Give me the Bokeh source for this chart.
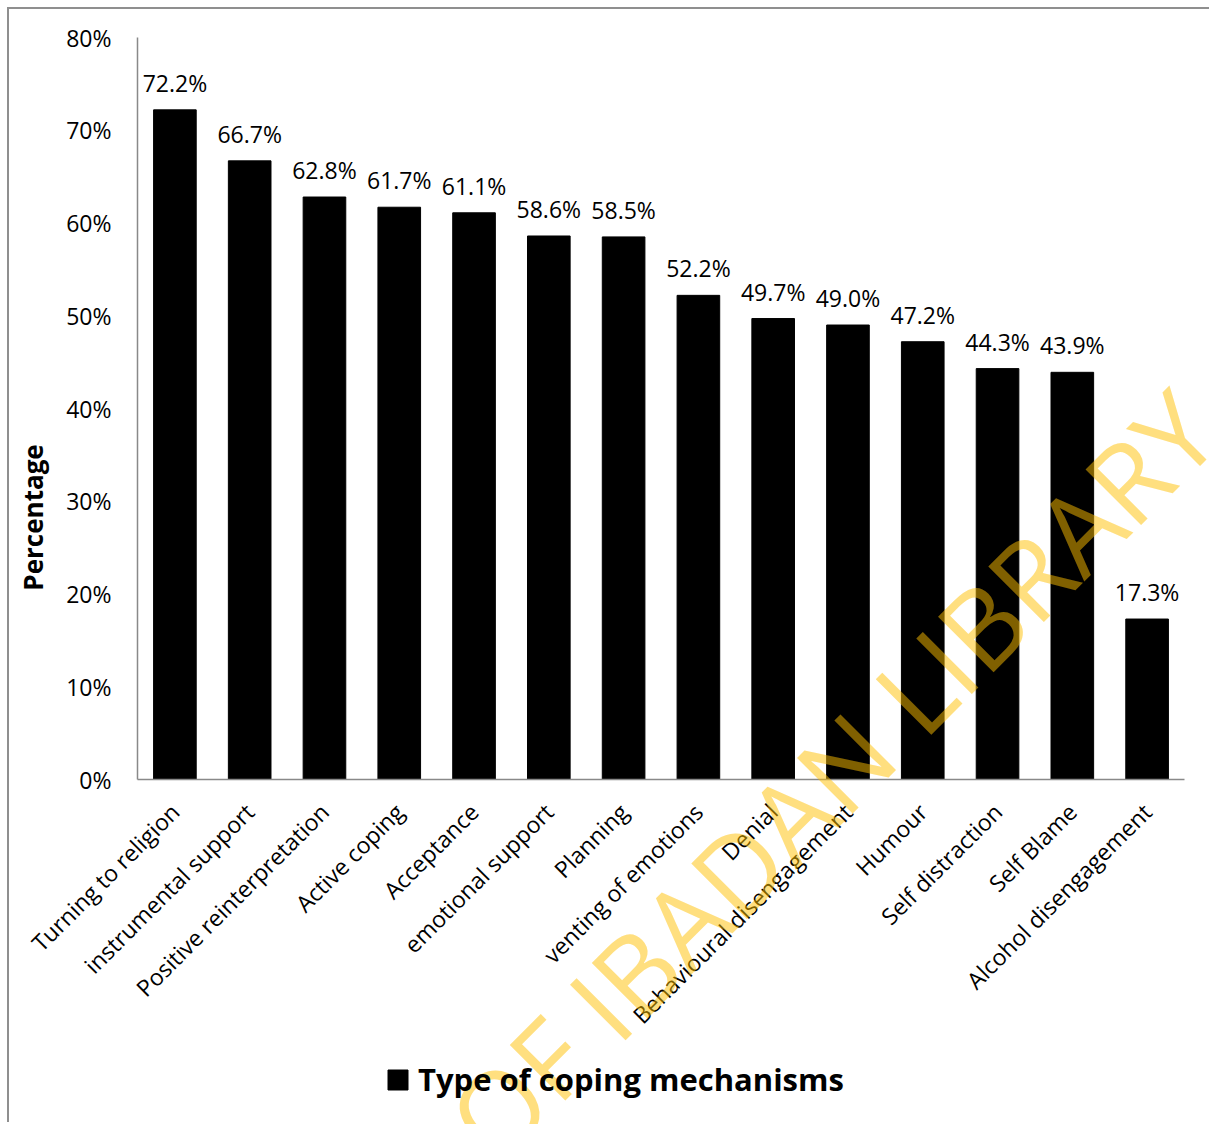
import math
from bokeh.plotting import figure
from bokeh.models import (FactorRange, Range1d, ColumnDataSource, PrintfTickFormatter,
                          FixedTicker, Legend, LegendItem)
from bokeh.core.properties import value
from bokeh.embed import file_html
from bokeh.resources import INLINE

# ---- data ----
categories = ["Turning to religion", "instrumental support", "Positive reinterpretation",
              "Active coping", "Acceptance", "emotional support", "Planning",
              "venting of emotions", "Denial", "Behavioural disengagement", "Humour",
              "Self distraction", "Self Blame", "Alcohol disengagement"]
percentages = [72.2, 66.7, 62.8, 61.7, 61.1, 58.6, 58.5, 52.2, 49.7, 49.0, 47.2, 44.3, 43.9, 17.3]
y_ticks = [0, 10, 20, 30, 40, 50, 60, 70, 80]
series_name = "Type of coping mechanisms"
y_title = "Percentage"
watermark = "UNIVERSITY OF IBADAN LIBRARY"

FONT = "Open Sans"

src = ColumnDataSource(dict(cat=categories, val=percentages,
                            lab=["%.1f%%" % v for v in percentages]))

# ---- main chart ----
p = figure(x_range=FactorRange(factors=categories), y_range=Range1d(0, 80),
           width=1202, height=1115, output_backend="svg", toolbar_location=None,
           min_border_left=128, min_border_right=27, min_border_top=28, min_border_bottom=345)
p.styles = {"border-left": "2px solid #8f8f8f", "border-top": "2px solid #8f8f8f",
            "margin-left": "7px", "margin-top": "7px"}
p.outline_line_color = None
p.xgrid.grid_line_color = None
p.ygrid.grid_line_color = None
p.background_fill_color = "white"
p.border_fill_color = "white"

p.vbar(x="cat", top="val", width=0.57, source=src, fill_color="black", line_color="black")

p.text(x="cat", y="val", text="lab", source=src, text_align="center", text_baseline="bottom",
       y_offset=-11, text_font=value(FONT), text_font_size="23px", text_color="black")

p.yaxis.ticker = FixedTicker(ticks=y_ticks)
p.yaxis.formatter = PrintfTickFormatter(format="%d%%")
for ax in (p.xaxis, p.yaxis):
    ax.axis_line_color = "#898989"
    ax.axis_line_width = 1.5
    ax.major_tick_line_color = None
    ax.minor_tick_line_color = None
    ax.major_label_text_font = FONT
    ax.major_label_text_font_size = "23px"
    ax.major_label_text_color = "black"
p.yaxis.major_label_standoff = 20
p.xaxis.major_label_orientation = math.pi / 4
p.xaxis.major_label_standoff = 22

# ---- overlay: axis title, legend and watermark (transparent, over the whole page) ----
wm = figure(width=1211, height=1124, x_range=Range1d(0, 1211), y_range=Range1d(1124, 0),
            min_border=0, output_backend="svg", toolbar_location=None)
wm.axis.visible = False
wm.xgrid.visible = False
wm.ygrid.visible = False
wm.outline_line_color = None
wm.background_fill_color = None
wm.border_fill_color = None

wm.text(x=[32], y=[517], text=[y_title], angle=math.pi / 2, text_align="center",
        text_baseline="middle", text_font=value(FONT), text_font_size="26px",
        text_font_style="bold", text_color="black")

nan = float("nan")
legend_src = ColumnDataSource(dict(x=[nan], top=[nan]))
key = wm.vbar(x="x", top="top", width=1, source=legend_src, fill_color="black", line_color="black")
legend = Legend(items=[LegendItem(label=series_name, renderers=[key])],
                location=(385, 24), orientation="horizontal",
                border_line_color=None, background_fill_alpha=0, padding=0, margin=0,
                glyph_width=25, glyph_height=25, label_standoff=8,
                label_text_font=FONT, label_text_font_size="31px",
                label_text_font_style="bold", label_text_color="black")
wm.add_layout(legend, "center")

wm.text(x=[1194], y=[410], text=[watermark], angle=math.pi / 4, text_align="right",
        text_baseline="alphabetic", text_font=value(FONT), text_font_size="110px",
        text_color="#FFC000", text_alpha=0.5)
wm.styles = {"position": "absolute", "left": "0px", "top": "0px", "pointer-events": "none"}

open("out.html", "w").write(file_html([p, wm], INLINE))
